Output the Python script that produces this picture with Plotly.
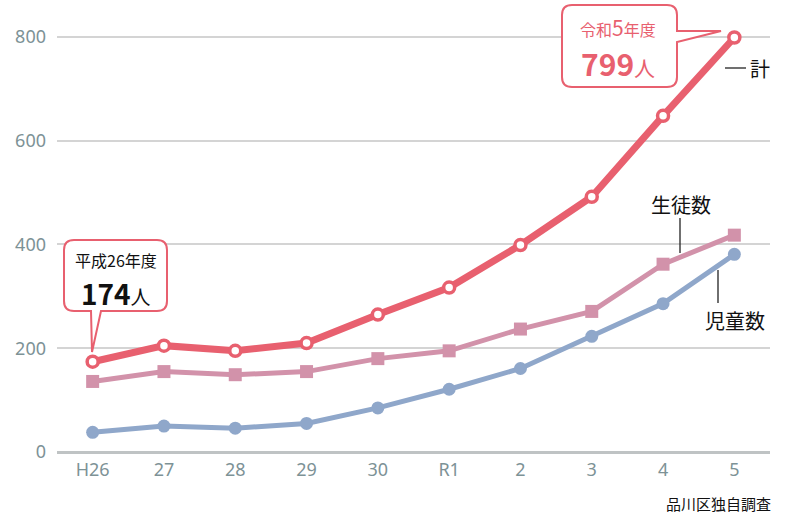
import plotly.graph_objects as go

years = ["H26", "27", "28", "29", "30", "R1", "2", "3", "4", "5"]
total = [174, 205, 195, 210, 265, 317, 399, 492, 648, 799]
students = [136, 155, 149, 155, 180, 195, 237, 271, 362, 418]
children = [38, 50, 46, 55, 85, 121, 161, 223, 286, 381]
y_ticks = [0, 200, 400, 600, 800]

RED = "#e8606f"
PINK = "#d292aa"
BLUE = "#8fa7ca"
TICK = "#7d9296"
JP = "Noto Sans CJK JP"

W_, H_ = 787, 517
L, R, T, B = 57, 770, 10, 452  # page-pixel plot edges


def px(x):
    return (x - L) / (R - L)


def py(y):
    return (B - y) / (B - T)


def P(x, y):
    return f"{px(x):.5f},{py(y):.5f}"


fig = go.Figure()
fig.add_trace(go.Scatter(x=years, y=children, mode="lines+markers",
                         line=dict(color=BLUE, width=5),
                         marker=dict(symbol="circle", size=13, color=BLUE),
                         name="児童数", hoverinfo="x+y"))
fig.add_trace(go.Scatter(x=years, y=students, mode="lines+markers",
                         line=dict(color=PINK, width=5),
                         marker=dict(symbol="square", size=13, color=PINK),
                         name="生徒数", hoverinfo="x+y"))
fig.add_trace(go.Scatter(x=years, y=total, mode="lines+markers",
                         line=dict(color=RED, width=7),
                         marker=dict(symbol="circle", size=11, color="white",
                                     line=dict(color=RED, width=3.5)),
                         name="計", hoverinfo="x+y"))


def box_bottom_tail(x0, y0, x1, y1, r, ta, tb, tip):
    return ("M " + P(x0 + r, y0) + " L " + P(x1 - r, y0) +
            " Q " + P(x1, y0) + " " + P(x1, y0 + r) +
            " L " + P(x1, y1 - r) + " Q " + P(x1, y1) + " " + P(x1 - r, y1) +
            " L " + P(tb, y1) + " L " + P(*tip) + " L " + P(ta, y1) +
            " L " + P(x0 + r, y1) + " Q " + P(x0, y1) + " " + P(x0, y1 - r) +
            " L " + P(x0, y0 + r) + " Q " + P(x0, y0) + " " + P(x0 + r, y0) + " Z")


def box_right_tail(x0, y0, x1, y1, r, ta, tb, tip):
    return ("M " + P(x0 + r, y0) + " L " + P(x1 - r, y0) +
            " Q " + P(x1, y0) + " " + P(x1, y0 + r) +
            " L " + P(x1, ta) + " L " + P(*tip) + " L " + P(x1, tb) +
            " L " + P(x1, y1 - r) + " Q " + P(x1, y1) + " " + P(x1 - r, y1) +
            " L " + P(x0 + r, y1) + " Q " + P(x0, y1) + " " + P(x0, y1 - r) +
            " L " + P(x0, y0 + r) + " Q " + P(x0, y0) + " " + P(x0 + r, y0) + " Z")


shapes = [
    dict(type="path", xref="paper", yref="paper", layer="above",
         path=box_bottom_tail(64, 240, 167, 311, 10, 91, 101, (92, 352)),
         fillcolor="white", line=dict(color=RED, width=2)),
    dict(type="path", xref="paper", yref="paper", layer="above",
         path=box_right_tail(562, 5, 677, 87, 10, 31, 42, (721, 31)),
         fillcolor="white", line=dict(color=RED, width=2)),
]
# leader lines for series labels
for (x0, y0, x1, y1) in [(725, 68, 746, 68), (680, 218, 680, 253), (718, 270, 718, 303)]:
    shapes.append(dict(type="line", xref="paper", yref="paper",
                       x0=px(x0), y0=py(y0), x1=px(x1), y1=py(y1),
                       line=dict(color="#222222", width=1.3)))

annotations = [
    dict(text="平成26年度", x=px(116), y=py(260), font=dict(size=16, color="#111111", family=JP)),
    dict(text="<b>174</b><span style='font-size:20px'>人</span>", x=px(116), y=py(293),
         font=dict(size=28, color="#111111", family=JP)),
    dict(text="令和<span style='font-size:21px'>5</span>年度", x=px(618), y=py(27),
         font=dict(size=16, color=RED, family=JP)),
    dict(text="<b>799</b><span style='font-size:21px'>人</span>", x=px(618), y=py(63),
         font=dict(size=30, color=RED, family=JP)),
    dict(text="計", x=px(760), y=py(69), font=dict(size=20, color="#111111", family=JP)),
    dict(text="生徒数", x=px(681), y=py(204), font=dict(size=20, color="#111111", family=JP)),
    dict(text="児童数", x=px(735), y=py(320), font=dict(size=20, color="#111111", family=JP)),
    dict(text="品川区独自調査", x=px(773), y=py(503), xanchor="right",
         font=dict(size=15, color="#111111", family=JP)),
]
for a in annotations:
    a.setdefault("xref", "paper")
    a.setdefault("yref", "paper")
    a.setdefault("showarrow", False)
    a.setdefault("xanchor", "center")
    a.setdefault("yanchor", "middle")

fig.update_layout(
    width=W_, height=H_,
    margin=dict(l=L, r=W_ - R, t=T, b=H_ - B),
    paper_bgcolor="white", plot_bgcolor="white",
    showlegend=False,
    shapes=shapes, annotations=annotations,
    font=dict(family=JP),
    xaxis=dict(type="category", range=[-0.5, 9.5], showgrid=False,
               showline=False, zeroline=False, ticks="",
               tickfont=dict(size=18, color=TICK, family="Noto Sans"),
               ticklabelstandoff=5, fixedrange=True),
    yaxis=dict(range=[0, 852], tickvals=y_ticks, showgrid=True,
               gridcolor="#d4d4d4", gridwidth=2,
               zeroline=True, zerolinecolor="#bfc3c4", zerolinewidth=3,
               showline=False, ticks="",
               tickfont=dict(size=18, color=TICK, family="Noto Sans"),
               ticklabelstandoff=10, fixedrange=True),
)

fig.write_html("out.html", post_script="document.body.style.margin='0';",
               config={"displayModeBar": False})
